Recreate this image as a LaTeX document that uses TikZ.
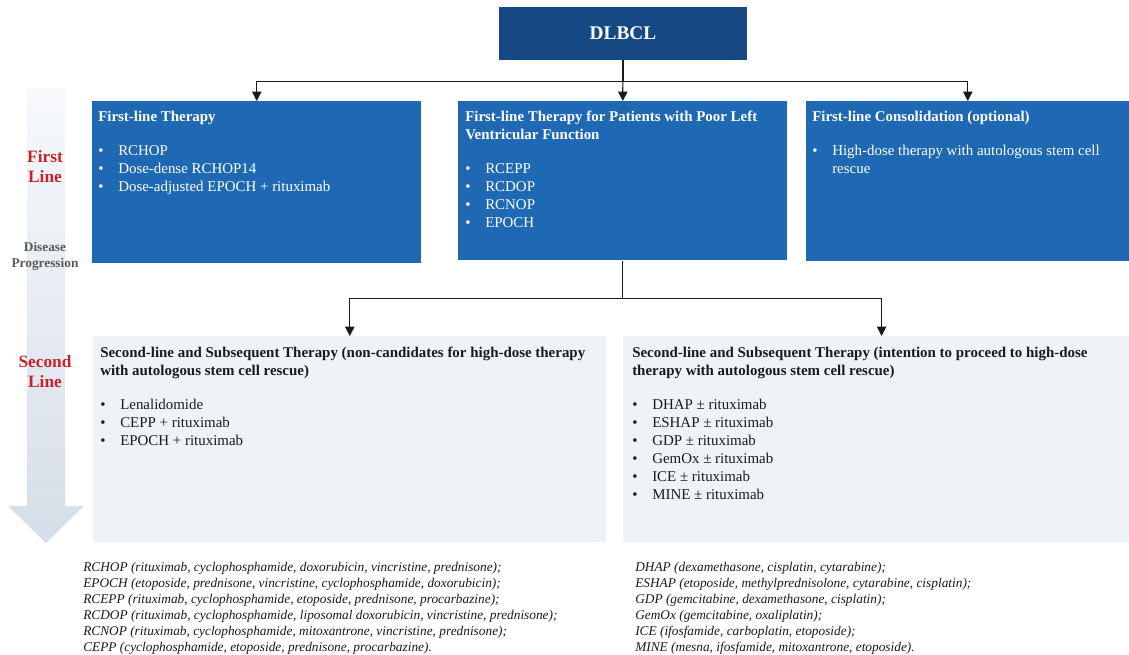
\documentclass[tikz,border=0pt]{standalone}
\usepackage{fontspec}
\setmainfont{Liberation Serif}
\definecolor{dxnavy}{RGB}{22,72,132}
\definecolor{dxblue}{RGB}{31,105,180}
\definecolor{dxpale}{RGB}{239,243,247}
\definecolor{dxred}{RGB}{200,35,44}
\definecolor{dxgray}{RGB}{90,90,90}
\definecolor{dxink}{RGB}{26,26,26}
\definecolor{dxshadetop}{RGB}{247,249,251}
\definecolor{dxshadebot}{RGB}{213,222,232}
\usetikzlibrary{arrows.meta,positioning}
\newcommand{\pxu}{0.75pt}
\newcommand{\bul}{\makebox[15pt][l]{\textbullet}}

\begin{document}
\begin{tikzpicture}[x=0.75pt, y=-0.75pt,
    topbox/.style={rectangle, fill=dxblue, inner sep=0pt, anchor=north west},
    lowbox/.style={rectangle, fill=dxpale, inner sep=0pt, anchor=north west},
    boxtext/.style={anchor=north west, inner sep=0pt, align=left,
                    font=\fontsize{11.2}{13.5}\selectfont},
    notetext/.style={anchor=north west, inner sep=0pt, align=left, text=dxink,
                     font=\fontsize{10}{12}\selectfont\itshape},
    sidelabel/.style={align=center, text=dxred, font=\fontsize{13}{15}\selectfont\bfseries},
    conn/.style={-{Triangle[length=7pt,width=7pt]}, line width=0.9pt, dxink}
  ]
    \useasboundingbox (0,0) rectangle (1129,655);

    % Progression arrow
    \shade[top color=dxshadetop, bottom color=dxshadebot]
      (27,88) -- (65,88) -- (65,506) -- (84,506) -- (46,543) -- (8,506) -- (27,506) -- cycle;
    \node[sidelabel] (firstline) at (45,167) {First\\Line};
    \node[align=center, text=dxgray, font=\fontsize{10}{12}\selectfont\bfseries]
      (progress) at (45,256) {Disease\\Progression};
    \node[sidelabel] (secondline) at (45,372) {Second\\Line};

    % Boxes
    \node[rectangle, fill=dxnavy, minimum width=248*\pxu, minimum height=53*\pxu,
          text=white, font=\fontsize{14.5}{17}\selectfont\bfseries] (dlbcl) at (623,33.5) {DLBCL};
    \node[topbox, minimum width=329*\pxu, minimum height=162*\pxu] (first) at (92,101) {};
    \node[topbox, minimum width=329*\pxu, minimum height=159*\pxu] (poorlv) at (458,101) {};
    \node[topbox, minimum width=323*\pxu, minimum height=160*\pxu] (consol) at (806,101) {};
    \node[lowbox, minimum width=513*\pxu, minimum height=206*\pxu] (nonhdt) at (93,336) {};
    \node[lowbox, minimum width=506*\pxu, minimum height=206*\pxu] (hdt) at (623,336) {};

    \node[boxtext, text=white] (first-txt) at ([shift={(6,10)}]first.north west)
      {\textbf{First-line Therapy}\\[12pt]
       \bul RCHOP\\
       \bul Dose-dense RCHOP14\\
       \bul Dose-adjusted EPOCH + rituximab};
    \node[boxtext, text=white] (poorlv-txt) at ([shift={(7,10)}]poorlv.north west)
      {\textbf{First-line Therapy for Patients with Poor Left}\\
       \textbf{Ventricular Function}\\[12pt]
       \bul RCEPP\\
       \bul RCDOP\\
       \bul RCNOP\\
       \bul EPOCH};
    \node[boxtext, text=white] (consol-txt) at ([shift={(6,10)}]consol.north west)
      {\textbf{First-line Consolidation (optional)}\\[12pt]
       \bul High-dose therapy with autologous stem cell\\
       \hspace*{15pt}rescue};
    \node[boxtext, text=dxink] (nonhdt-txt) at ([shift={(7,11)}]nonhdt.north west)
      {\textbf{Second-line and Subsequent Therapy (non-candidates for high-dose therapy}\\
       \textbf{with autologous stem cell rescue)}\\[12pt]
       \bul Lenalidomide\\
       \bul CEPP + rituximab\\
       \bul EPOCH + rituximab};
    \node[boxtext, text=dxink] (hdt-txt) at ([shift={(9,11)}]hdt.north west)
      {\textbf{Second-line and Subsequent Therapy (intention to proceed to high-dose}\\
       \textbf{therapy with autologous stem cell rescue)}\\[12pt]
       \bul DHAP ± rituximab\\
       \bul ESHAP ± rituximab\\
       \bul GDP ± rituximab\\
       \bul GemOx ± rituximab\\
       \bul ICE ± rituximab\\
       \bul MINE ± rituximab};

    \draw[conn] (dlbcl.south) -- (poorlv.north);
    \draw[conn] (dlbcl.south) -- ++(0,21) -| (first.north);
    \draw[conn] (dlbcl.south) -- ++(0,21) -| (consol.north);
    \draw[conn] (poorlv.south) -- ++(0,38) -| (nonhdt.north);
    \draw[conn] (poorlv.south) -- ++(0,38) -| ([xshift=4]hdt.north);

    % Abbreviations
    \node[notetext] (notes-left) at (83,562)
      {RCHOP (rituximab, cyclophosphamide, doxorubicin, vincristine, prednisone);\\
       EPOCH (etoposide, prednisone, vincristine, cyclophosphamide, doxorubicin);\\
       RCEPP (rituximab, cyclophosphamide, etoposide, prednisone, procarbazine);\\
       RCDOP (rituximab, cyclophosphamide, liposomal doxorubicin, vincristine, prednisone);\\
       RCNOP (rituximab, cyclophosphamide, mitoxantrone, vincristine, prednisone);\\
       CEPP (cyclophosphamide, etoposide, prednisone, procarbazine).};
    \node[notetext] (notes-right) at (635,562)
      {DHAP (dexamethasone, cisplatin, cytarabine);\\
       ESHAP (etoposide, methylprednisolone, cytarabine, cisplatin);\\
       GDP (gemcitabine, dexamethasone, cisplatin);\\
       GemOx (gemcitabine, oxaliplatin);\\
       ICE (ifosfamide, carboplatin, etoposide);\\
       MINE (mesna, ifosfamide, mitoxantrone, etoposide).};
  \end{tikzpicture}
\end{document}
